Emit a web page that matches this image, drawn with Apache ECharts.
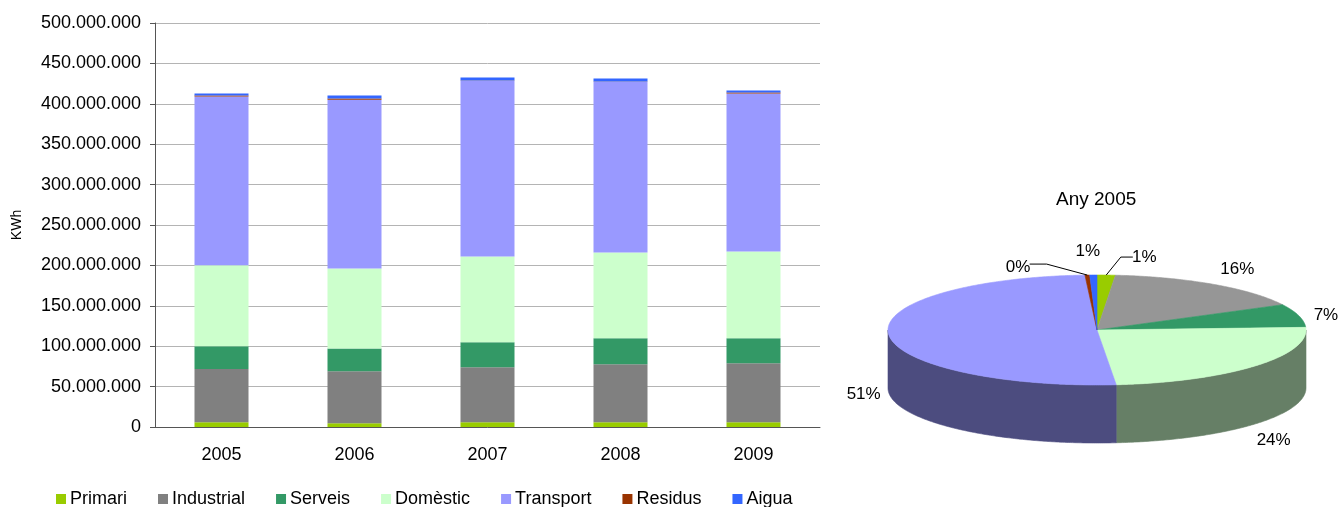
<!DOCTYPE html>
<html><head><meta charset="utf-8">
<script src="https://cdn.jsdelivr.net/npm/echarts@6/dist/echarts.min.js"></script>
<style>html,body{margin:0;padding:0;background:#fff}#c{width:1339px;height:507px}</style>
</head><body><div id="c"></div>
<script>
// ---- data ----
const years = ['2005', '2006', '2007', '2008', '2009'];
const seriesNames = ['Primari', 'Industrial', 'Serveis', 'Domèstic', 'Transport', 'Residus', 'Aigua'];
const primari    = [5800000, 4600000, 5800000, 5800000, 5800000];
const industrial = [66000000, 64300000, 68000000, 71800000, 73000000];
const serveis    = [28200000, 28400000, 31000000, 32100000, 30900000];
const domestic   = [100300000, 99000000, 106300000, 106400000, 107600000];
const transport  = [208600000, 208700000, 217300000, 211100000, 195400000];
const residus    = [1500000, 1600000, 400000, 300000, 1300000];
const aigua      = [2300000, 3700000, 3700000, 3800000, 2500000];
const yTicks = { min: 0, max: 500000000, interval: 50000000 };
const pieTitle = 'Any 2005';
const pieYearIndex = 0;

// ---- styles / layout ----
const FONT = '"Liberation Sans", Arial, sans-serif';
const barColors = ['#99CC00', '#808080', '#339966', '#CCFFCC', '#9999FF', '#993300', '#3366FF'];
const pieTopColors = ['#99CC00', '#969696', '#339966', '#CCFFCC', '#9999FF', '#993300', '#3366FF'];
const pieSideColors = ['#4D6600', '#4B4B4B', '#1A4D33', '#667F66', '#4C4C7F', '#4D1A00', '#1A3380'];
const PIE = { cx: 1097, cy: 330, rx: 209, ry: 55, depth: 58, labelOut: 25 };
const pieLabelNudge = { 0: [37, 7], 1: [10, 6], 2: [3, 6], 5: [-68, 17], 6: [-5, 1] };
const pieLeader = { 0: 'right', 5: 'left' };

const allSeries = [primari, industrial, serveis, domestic, transport, residus, aigua];
const pieValues = allSeries.map(s => s[pieYearIndex]);
const pieTotal = pieValues.reduce((a, b) => a + b, 0);
const pieStart = [], pieEnd = [];
(function () {
  let acc = 0;
  pieValues.forEach((v) => {
    pieStart.push(acc / pieTotal * Math.PI * 2);
    acc += v;
    pieEnd.push(acc / pieTotal * Math.PI * 2);
  });
})();

function pt(t, dz, rx, ry) {
  return [PIE.cx + rx * Math.sin(t), PIE.cy - ry * Math.cos(t) + dz];
}

function renderPie(params, api) {
  const i = params.dataIndex;
  const a0 = pieStart[i], a1 = pieEnd[i];
  const children = [];
  const n = Math.max(2, Math.ceil((a1 - a0) / 0.01));
  const top = [[PIE.cx, PIE.cy]];
  for (let k = 0; k <= n; k++) top.push(pt(a0 + (a1 - a0) * k / n, 0, PIE.rx, PIE.ry));
  children.push({ type: 'polygon', shape: { points: top },
    style: { fill: pieTopColors[i], stroke: pieTopColors[i], lineWidth: 0.6 }, z2: 10 });
  const s = Math.max(a0, Math.PI / 2), e = Math.min(a1, Math.PI * 1.5);
  if (e > s) {
    const m = Math.max(2, Math.ceil((e - s) / 0.01));
    const side = [];
    for (let k = 0; k <= m; k++) side.push(pt(s + (e - s) * k / m, 0, PIE.rx, PIE.ry));
    for (let k = m; k >= 0; k--) side.push(pt(s + (e - s) * k / m, PIE.depth, PIE.rx, PIE.ry));
    children.push({ type: 'polygon', shape: { points: side },
      style: { fill: pieSideColors[i], stroke: pieSideColors[i], lineWidth: 0.6 }, z2: 1 });
  }
  const mid = (a0 + a1) / 2;
  let [lx, ly] = pt(mid, Math.cos(mid) < 0 ? PIE.depth : 0, PIE.rx + PIE.labelOut, PIE.ry + PIE.labelOut);
  const nudge = pieLabelNudge[i];
  if (nudge) { lx += nudge[0]; ly += nudge[1]; }
  const txt = Math.round(pieValues[i] / pieTotal * 100) + '%';
  children.push({ type: 'text', z2: 20,
    style: { text: txt, x: lx, y: ly, fill: '#000', fontSize: 17, fontFamily: FONT,
      align: 'center', verticalAlign: 'middle' } });
  if (pieLeader[i]) {
    const edge = pt(mid, 0, PIE.rx, PIE.ry);
    const w = txt.length * 8.5;
    let pts;
    if (pieLeader[i] === 'right') {
      pts = [edge, [lx - w / 2 - 15, ly], [lx - w / 2 - 3, ly]];
    } else {
      pts = [edge, [lx + w / 2 + 20, ly - 3], [lx + w / 2 + 3, ly - 3]];
    }
    children.push({ type: 'polyline', shape: { points: pts }, z2: 15,
      style: { stroke: '#000', lineWidth: 1, fill: null } });
  }
  return { type: 'group', children: children };
}

function fmt(v) {
  return String(v).replace(/\B(?=(\d{3})+(?!\d))/g, '.');
}

const chart = echarts.init(document.getElementById('c'), null, { renderer: 'canvas' });
const barSeries = seriesNames.map((name, i) => ({
  name: name, type: 'bar', stack: 'total', data: allSeries[i], barWidth: 54,
  itemStyle: { color: barColors[i] }, emphasis: { disabled: true }
}));

chart.setOption({
  animation: false,
  backgroundColor: '#fff',
  title: { text: pieTitle, left: 1051, top: 185,
    textStyle: { fontFamily: FONT, fontSize: 19, fontWeight: 'normal', color: '#000' } },
  legend: {
    data: seriesNames, left: 51, top: 485, itemWidth: 10, itemHeight: 10, itemGap: 31,
    icon: 'rect', textStyle: { fontFamily: FONT, fontSize: 18, color: '#000', padding: [0, 0, 0, -1] }
  },
  grid: { left: 155, top: 23, width: 665, height: 404, containLabel: false },
  xAxis: {
    type: 'category', data: years,
    axisLine: { lineStyle: { color: '#555', width: 1 } },
    axisTick: { length: 5, lineStyle: { color: '#555' } },
    axisLabel: { fontFamily: FONT, fontSize: 18, color: '#000', margin: 19 }
  },
  yAxis: {
    type: 'value', min: yTicks.min, max: yTicks.max, interval: yTicks.interval,
    name: 'KWh', nameLocation: 'middle', nameGap: 131, nameRotate: 90,
    nameTextStyle: { fontFamily: FONT, fontSize: 14, color: '#000' },
    axisLine: { show: true, lineStyle: { color: '#555' } },
    axisTick: { show: true, length: 5, lineStyle: { color: '#555' } },
    splitLine: { lineStyle: { color: '#b4b4b4' } },
    axisLabel: { fontFamily: FONT, fontSize: 18, color: '#000', margin: 14, formatter: fmt }
  },
  series: barSeries.concat([{
    name: pieTitle, type: 'custom', coordinateSystem: 'none',
    data: pieValues, renderItem: renderPie, silent: true
  }])
});
</script>
</body></html>
